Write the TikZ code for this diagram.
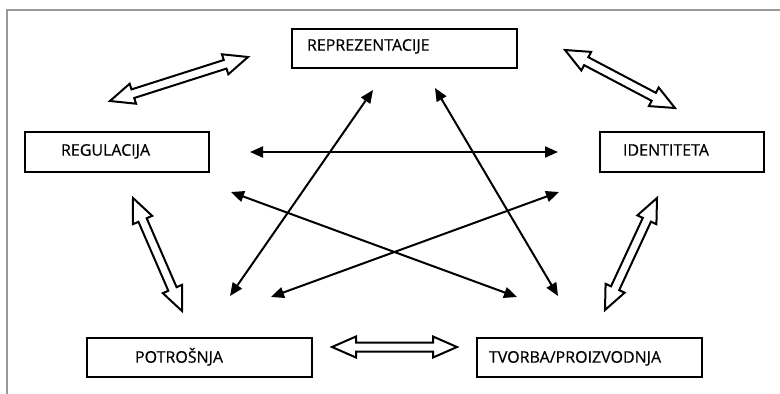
\documentclass[tikz,border=0pt]{standalone}
\usepackage{fontspec}
\setmainfont{Open Sans}
\usepackage{tikz}
\usetikzlibrary{arrows.meta, calc}
\definecolor{framegray}{gray}{0.6}

% hollow two-headed arrow between two named coordinates
\newcommand{\fatarrow}[2]{%
  \draw[fatline] (#1)
    -- ($(#1)!24pt!(#2)!10.5pt!90:(#2)$)
    -- ($(#1)!24pt!(#2)!4.5pt!90:(#2)$)
    -- ($(#2)!24pt!(#1)!4.5pt!-90:(#1)$)
    -- ($(#2)!24pt!(#1)!10.5pt!-90:(#1)$)
    -- (#2)
    -- ($(#2)!24pt!(#1)!10.5pt!90:(#1)$)
    -- ($(#2)!24pt!(#1)!4.5pt!90:(#1)$)
    -- ($(#1)!24pt!(#2)!4.5pt!-90:(#2)$)
    -- ($(#1)!24pt!(#2)!10.5pt!-90:(#2)$)
    -- cycle;}

\begin{document}
\begin{tikzpicture}
[x=1pt, y=-1pt,
 box/.style={rectangle, draw, line width=2.2pt, align=left, inner ysep=0pt,
   font=\fontsize{16}{18}\selectfont\addfontfeature{FakeBold=0.5}, text height=11.4pt},
 twoway/.style={line width=2pt,
   arrows={Triangle[length=13pt, width=11pt]-Triangle[length=13pt, width=11pt]}},
 fatline/.style={draw, line width=2pt, fill=white}]

\useasboundingbox (0,0) rectangle (780,394);
\draw[framegray, line width=1.5pt] (7,394) -- (7,10) -- (780,10);

% boxes
\node[box, minimum height=39pt, inner xsep=15pt, text width=195pt, text depth=7pt]
  (rep) at (404.5,48.5) {REPREZENTACIJE};
\node[box, minimum height=40pt, inner xsep=36pt, text width=112pt, text depth=4pt]
  (reg) at (117,152) {REGULACIJA};
\node[box, minimum height=40pt, inner xsep=23pt, text width=118pt, text depth=4pt]
  (ide) at (682,152) {IDENTITETA};
\node[box, minimum height=39pt, inner xsep=48pt, text width=129pt, text depth=1pt]
  (pot) at (199.5,357.5) {POTROŠNJA};
\node[box, minimum height=39pt, inner xsep=12pt, text width=201pt, text depth=1pt]
  (tvo) at (589.5,357.5) {TVORBA/PROIZVODNJA};

% ends of the thin arrows
\coordinate (regE) at (250,152);
\coordinate (ideW) at (558,152);
\coordinate (repSW) at (373,90);
\coordinate (potNE) at (230,296);
\coordinate (repSE) at (435,88);
\coordinate (tvoNW) at (558,296);
\coordinate (regSE) at (231,192);
\coordinate (tvoN) at (517,297);
\coordinate (ideSW) at (559,192);
\coordinate (potN) at (271,297);

  \draw [twoway] (regE) -- (ideW);
  \draw [twoway] (repSW) -- (potNE);
  \draw [twoway] (repSE) -- (tvoNW);
  \draw [twoway] (regSE) -- (tvoN);
  \draw [twoway] (ideSW) -- (potN);

% ends of the hollow arrows
\coordinate (regNE) at (110,101);
\coordinate (repW) at (248,57);
\coordinate (repE) at (565,50);
\coordinate (ideN) at (675,108);
\coordinate (regS) at (133,198);
\coordinate (potNW) at (182,311);
\coordinate (ideS) at (657,198);
\coordinate (tvoNE) at (605,310);
\coordinate (potE) at (332,347);
\coordinate (tvoW) at (457,347);

  \fatarrow{regNE}{repW}
  \fatarrow{repE}{ideN}
  \fatarrow{regS}{potNW}
  \fatarrow{ideS}{tvoNE}
  \fatarrow{potE}{tvoW}

\end{tikzpicture}
\end{document}
